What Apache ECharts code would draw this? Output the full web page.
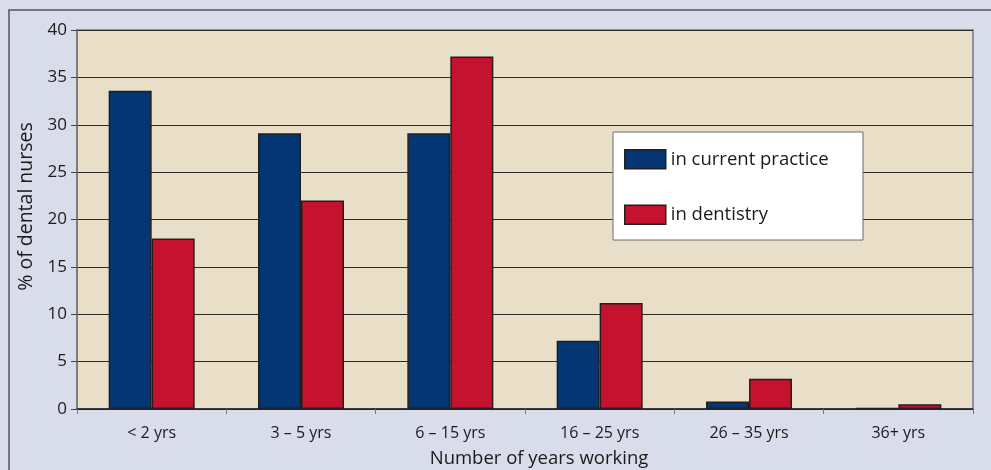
<!DOCTYPE html>
<html>
<head>
<meta charset="utf-8">
<script src="https://cdn.jsdelivr.net/npm/echarts@6/dist/echarts.min.js"></script>
<style>
  html, body { margin: 0; padding: 0; background: #d9dceb; }
  #chart { width: 991px; height: 470px; }
</style>
</head>
<body>
<div id="chart"></div>
<script>
// Years-of-service bands and the share of dental nurses in each
const categories = ['< 2 yrs', '3 – 5 yrs', '6 – 15 yrs', '16 – 25 yrs', '26 – 35 yrs', '36+ yrs'];
const inCurrentPractice = [33.6, 29.1, 29.1, 7.2, 0.8, 0.1];
const inDentistry = [18.0, 22.0, 37.2, 11.2, 3.2, 0.5];
const seriesNames = ['in current practice', 'in dentistry'];
const yTicks = { min: 0, max: 40, interval: 5 };

const FONT = '"Open Sans", "DejaVu Sans", sans-serif';
const TEXT = '#1c1a1a';

const chart = echarts.init(document.getElementById('chart'), null, { renderer: 'canvas' });

const barStyle = (color) => ({
  color: color,
  borderColor: '#231f20',
  borderWidth: 1.5
});

chart.setOption({
  animation: false,
  backgroundColor: '#d9dceb',
  textStyle: { fontFamily: FONT },
  graphic: [
    // outer frame of the figure panel
    {
      type: 'rect',
      shape: { x: 9, y: 10, width: 1000, height: 480 },
      style: { fill: 'none', stroke: '#555', lineWidth: 1.5 },
      z: 0
    },
    // legend panel
    {
      type: 'rect',
      shape: { x: 613, y: 132, width: 250, height: 108 },
      style: { fill: '#ffffff', stroke: '#6d6d6d', lineWidth: 1 },
      z: 5
    }
  ],
  grid: {
    left: 77, right: 18, top: 30, bottom: 61,
    outerBoundsMode: 'none',
    show: true,
    backgroundColor: '#e9dec7',
    borderColor: '#8d9098',
    borderWidth: 2
  },
  legend: {
    left: 619,
    top: 144,
    orient: 'vertical',
    itemGap: 35,
    itemWidth: 41,
    itemHeight: 19,
    icon: 'rect',
    z: 10,
    data: seriesNames,
    textStyle: { fontFamily: FONT, fontSize: 18.5, fontWeight: 500, color: TEXT, padding: [0, 0, 0, 0] },
    itemStyle: { borderColor: '#231f20', borderWidth: 1.5 }
  },
  xAxis: {
    type: 'category',
    data: categories,
    name: 'Number of years working',
    nameLocation: 'middle',
    nameGap: 40,
    nameTextStyle: { fontFamily: FONT, fontSize: 18.5, color: TEXT, fontWeight: 500, padding: [0, 0, 0, 28] },
    axisLine: { show: true, lineStyle: { color: '#231f20', width: 1.5 } },
    axisTick: { show: true, alignWithLabel: false, length: 5, lineStyle: { color: '#777' } },
    axisLabel: { fontFamily: FONT, fontSize: 16, fontWeight: 500, color: TEXT, margin: 16 }
  },
  yAxis: {
    type: 'value',
    min: yTicks.min,
    max: yTicks.max,
    interval: yTicks.interval,
    name: '% of dental nurses',
    nameLocation: 'middle',
    nameRotate: 90,
    nameGap: 38,
    nameTextStyle: { fontFamily: FONT, fontSize: 19.5, color: TEXT, fontWeight: 500, padding: [0, 0, 0, 26] },
    axisLine: { show: true, lineStyle: { color: '#777', width: 1.5 } },
    axisTick: { show: true, length: 6, lineStyle: { color: '#444' } },
    axisLabel: { fontFamily: FONT, fontSize: 17, fontWeight: 500, color: TEXT, margin: 10 },
    splitLine: { show: true, lineStyle: { color: '#2f2b28', width: 1.2 } }
  },
  series: [
    {
      name: seriesNames[0],
      type: 'bar',
      data: inCurrentPractice,
      barWidth: 43,
      barGap: '0%',
      itemStyle: barStyle('#033673')
    },
    {
      name: seriesNames[1],
      type: 'bar',
      data: inDentistry,
      barWidth: 43,
      barGap: '0%',
      itemStyle: barStyle('#c4122f')
    }
  ]
});
</script>
</body>
</html>
